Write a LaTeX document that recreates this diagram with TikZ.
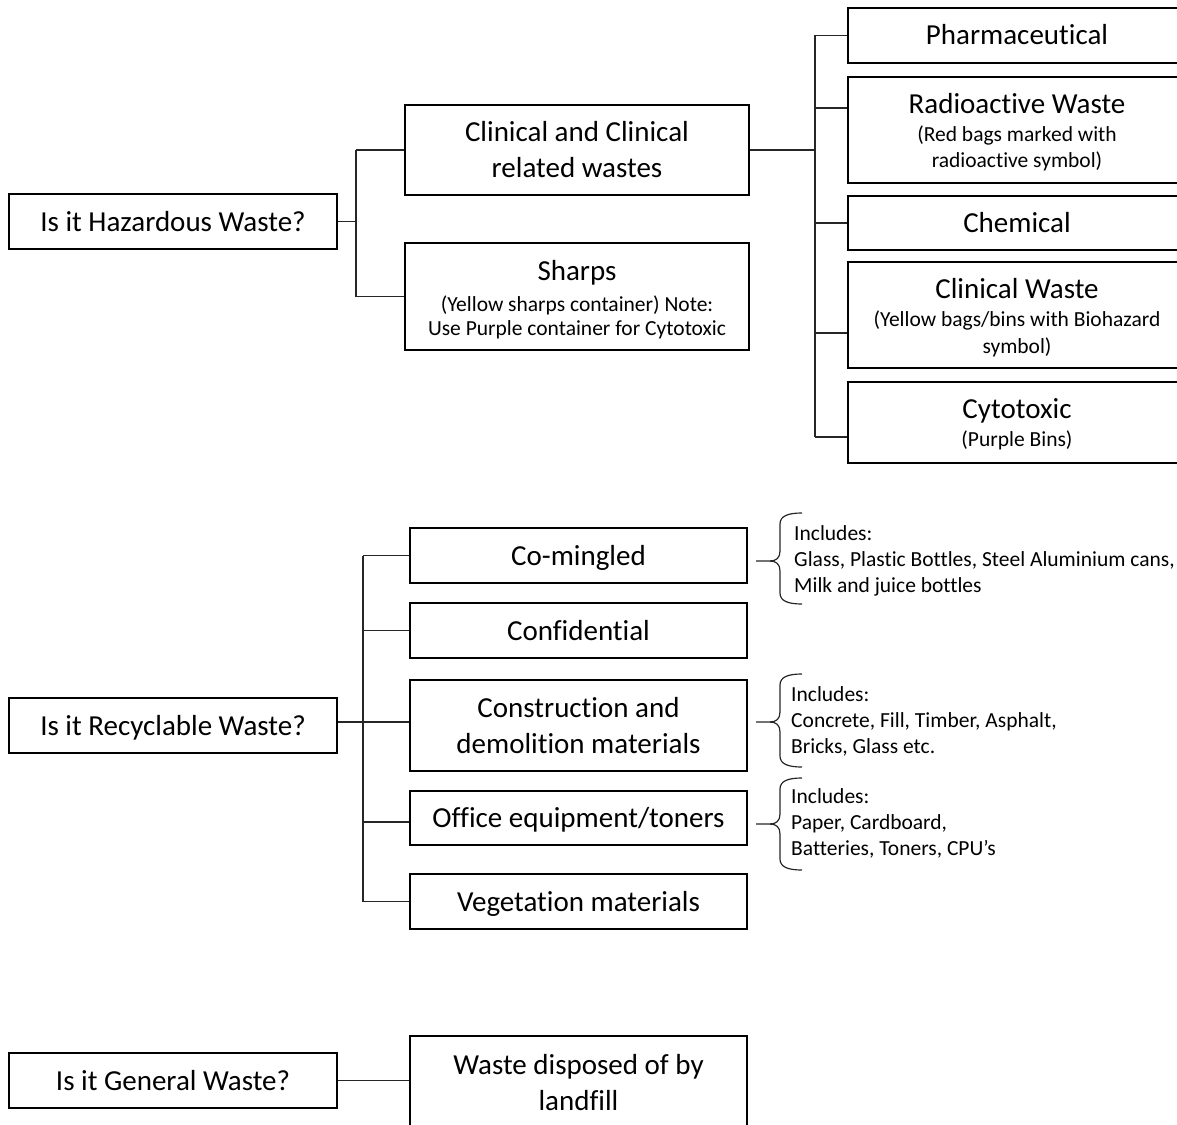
\documentclass[tikz,border=0pt]{standalone}
\usepackage{fontspec}
\setmainfont[Ligatures=NoCommon]{Carlito}
\begin{document}
\begin{tikzpicture}[x=1pt,y=-1pt,
  box/.style={draw, line width=1.8pt, inner sep=0pt, align=center, font=\fontsize{29}{36}\selectfont},
  one/.style={text height=19pt, text depth=0pt},
  link/.style={line width=1.2pt, black!85},
  big/.style={anchor=base, inner sep=0pt, font=\fontsize{29}{36}\selectfont},
  small/.style={anchor=base, inner sep=0pt, font=\fontsize{21.5}{26}\selectfont},
  note/.style={anchor=base west, align=left, inner sep=0pt, font=\fontsize{21.5}{26}\selectfont},
  brace/.style={line width=1.2pt, black!85}]
\useasboundingbox (0,0) rectangle (1177,1124);
\clip (0,0) rectangle (1177,1124);

% ---------- Hazardous ----------
\node[box, one, minimum width=328pt, minimum height=55pt] (haz) at (173,221.5) {Is it Hazardous Waste?};
\node[box, minimum width=344pt, minimum height=90pt] (clin) at (577,150) {Clinical and Clinical\\related wastes};
\node[box, minimum width=344pt, minimum height=107pt] (sharps) at (577,296.5) {};
\node[big] (sharpsA) at (577,280) {Sharps};
\node[small] (sharpsB) at (577,311.5) {(Yellow sharps container) Note:};
\node[small] (sharpsC) at (577,335) {Use Purple container for Cytotoxic};

\node[box, one, minimum width=338pt, minimum height=55pt] (pharm) at (1017,35.5) {Pharmaceutical};
\node[box, minimum width=338pt, minimum height=106pt] (rad) at (1017,130) {};
\node[big] (radA) at (1017,113.5) {Radioactive Waste};
\node[small] (radB) at (1017,141.5) {(Red bags marked with};
\node[small] (radC) at (1017,167) {radioactive symbol)};
\node[box, one, minimum width=338pt, minimum height=54pt] (chem) at (1017,223) {Chemical};
\node[box, minimum width=338pt, minimum height=106pt] (cw) at (1017,315) {};
\node[big] (cwA) at (1017,298.5) {Clinical Waste};
\node[small] (cwB) at (1017,326.5) {(Yellow bags/bins with Biohazard};
\node[small] (cwC) at (1017,353) {symbol)};
\node[box, minimum width=338pt, minimum height=81pt] (cyto) at (1017,422.5) {};
\node[big] (cytoA) at (1017,418.5) {Cytotoxic};
\node[small] (cytoB) at (1017,446.5) {(Purple Bins)};

\coordinate (ht) at (356,0);
\draw[link] (haz.east) -- (haz.east -| ht);
\draw[link] (ht |- clin.west) -- (ht |- sharps.west);
\draw[link] (ht |- clin.west) -- (clin.west);
\draw[link] (ht |- sharps.west) -- (sharps.west);

\coordinate (ct) at (815,0);
\coordinate (radtick) at ([yshift=22pt]rad.west);
\coordinate (cwtick) at ([yshift=-18pt]cw.west);
\coordinate (cytotick) at ([yshift=-14.5pt]cyto.west);
\draw[link] (clin.east) -- (clin.east -| ct);
\draw[link] (ct |- pharm.west) -- (ct |- cytotick);
\draw[link] (ct |- pharm.west) -- (pharm.west);
\draw[link] (ct |- radtick) -- (radtick);
\draw[link] (ct |- chem.west) -- (chem.west);
\draw[link] (ct |- cwtick) -- (cwtick);
\draw[link] (ct |- cytotick) -- (cytotick);

% ---------- Recyclable ----------
\node[box, one, minimum width=328pt, minimum height=55pt] (rec) at (173,725.5) {Is it Recyclable Waste?};
\node[box, one, minimum width=337pt, minimum height=55pt] (comin) at (578.5,555.5) {Co-mingled};
\node[box, one, minimum width=337pt, minimum height=55pt] (conf) at (578.5,630.5) {Confidential};
\node[box, minimum width=337pt, minimum height=91pt] (cons) at (578.5,725.5) {Construction and\\demolition materials};
\node[box, one, minimum width=337pt, minimum height=54pt] (office) at (578.5,818) {Office equipment/toners};
\node[box, one, minimum width=337pt, minimum height=55pt] (veg) at (578.5,901.5) {Vegetation materials};

\coordinate (rt) at (363,0);
\draw[link] ([yshift=3.5pt]rec.east) -- ([yshift=3.5pt]cons.west);
\draw[link] (rt |- comin.west) -- (rt |- veg.west);
\draw[link] (rt |- comin.west) -- (comin.west);
\draw[link] (rt |- conf.west) -- (conf.west);
\draw[link] ([yshift=-4pt]office.west -| rt) -- ([yshift=-4pt]office.west);
\draw[link] (rt |- veg.west) -- (veg.west);

% braces
\newcommand{\mybrace}[3]{%
  \draw[brace] (802,#1) .. controls (788,#1) and (780,#1+3) .. (780,#1+11)
    -- (780,#2-10) .. controls (780,#2-3) and (776,#2) .. (770,#2) -- (756,#2);
  \draw[brace] (770,#2) .. controls (776,#2) and (780,#2+3) .. (780,#2+10)
    -- (780,#3-11) .. controls (780,#3-3) and (788,#3) .. (802,#3);}
\mybrace{513}{561}{604}
\mybrace{674}{722}{767}
\mybrace{778}{824}{870}

\node[note] (n1) at (794,592.5) {Includes:\\Glass, Plastic Bottles, Steel Aluminium cans,\\Milk and juice bottles};
\node[note] (n2) at (791,753.5) {Includes:\\Concrete, Fill, Timber, Asphalt,\\Bricks, Glass etc.};
\node[note] (n3) at (791,855.5) {Includes:\\Paper, Cardboard,\\Batteries, Toners, CPU’s};

% ---------- General ----------
\node[box, one, minimum width=328pt, minimum height=55pt] (gen) at (173,1080.5) {Is it General Waste?};
\node[box, minimum width=337pt, minimum height=94pt] (land) at (578.5,1083) {Waste disposed of by\\landfill};
\draw[link] (gen.east) -- (gen.east -| land.west);
\end{tikzpicture}
\end{document}
